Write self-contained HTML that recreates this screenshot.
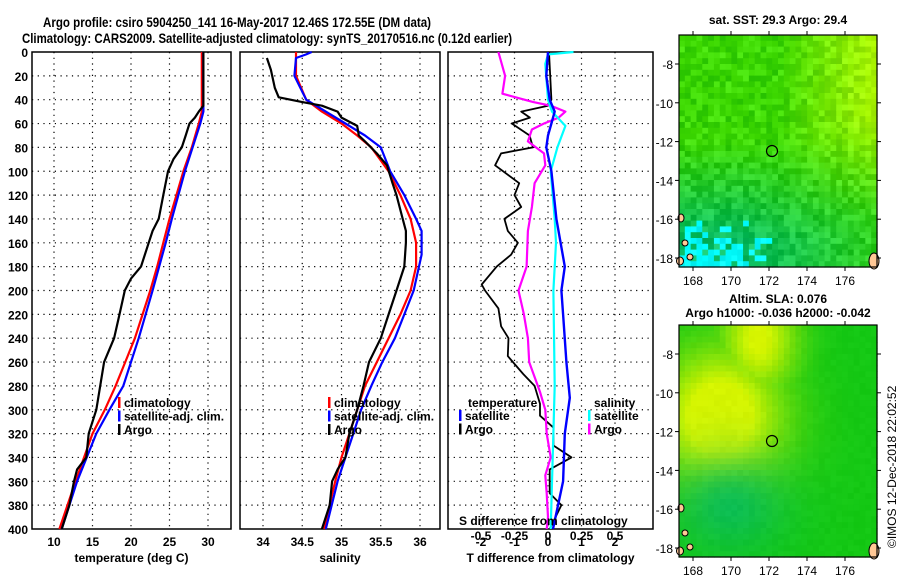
<!DOCTYPE html>
<html><head><meta charset="utf-8"><style>
body{margin:0;background:#fff;}
svg{display:block;font-family:"Liberation Sans",sans-serif;font-weight:bold;}
</style></head><body>
<svg id="fig" width="900" height="580" viewBox="0 0 900 580" xmlns="http://www.w3.org/2000/svg">
<rect width="900" height="580" fill="#fff"/>
<text x="43" y="27" font-size="14" textLength="388" lengthAdjust="spacingAndGlyphs">Argo profile: csiro 5904250_141 16-May-2017 12.46S 172.55E (DM data)</text>
<text x="22" y="43" font-size="14" textLength="490" lengthAdjust="spacingAndGlyphs">Climatology: CARS2009. Satellite-adjusted climatology: synTS_20170516.nc (0.12d earlier)</text>
<g id="charts"></g>
<g id="maps"></g>
<text transform="translate(896,548) rotate(-90)" font-size="12" font-weight="normal">©IMOS 12-Dec-2018 22:02:52</text>
</svg>
<script>
const depthTicks=[0,20,40,60,80,100,120,140,160,180,200,220,240,260,280,300,320,340,360,380,400];
const tempTicks=[10,15,20,25,30];
const salTicks=[34,34.5,35,35.5,36];
const tdiffTicks=[-2,-1,0,1,2];
const sdiffTicks=[-0.5,-0.25,0,0.25,0.5];
// temperature profiles
const tClimDepth=[0,50,60,80,100,140,160,180,200,240,280,300,320,360,400];
const tClim=[29.2,29.2,28.8,27.9,26.8,25.0,24.2,23.4,22.5,20.5,18.0,16.6,15.0,12.8,10.7];
const tSatDepth=[0,50,60,80,100,140,160,200,240,280,300,320,360,400];
const tSat=[29.4,29.4,29.0,28.0,27.0,25.3,24.5,22.8,21.0,19.0,17.2,15.5,13.0,11.0];
const tArgoDepth=[0,45,50,55,60,70,80,90,100,120,140,150,160,180,190,200,220,240,260,280,300,320,340,350,360,380,400];
const tArgo=[29.4,29.4,28.8,28.3,27.6,27.1,26.6,25.5,24.8,24.2,23.6,22.8,22.3,21.3,20.0,19.2,18.5,17.8,16.5,16.0,15.5,14.5,14.2,13.0,12.6,12.0,11.0];
// salinity profiles
const sClimDepth=[0,20,40,50,60,70,80,100,120,140,160,180,200,220,240,260,280,300,320,340,360,400];
const sClim=[34.42,34.42,34.55,34.75,35.0,35.2,35.38,35.6,35.75,35.88,35.95,35.95,35.88,35.75,35.6,35.45,35.3,35.2,35.1,35.0,34.92,34.78];
const sSatDepth=[0,2,5,20,40,50,60,70,80,100,120,140,150,170,200,220,240,260,280,300,320,340,360,400];
const sSat=[34.62,34.55,34.42,34.4,34.55,34.8,35.05,35.3,35.5,35.62,35.8,35.95,36.02,36.02,35.92,35.8,35.68,35.52,35.38,35.25,35.15,35.05,34.95,34.8];
const sArgoDepth=[5,15,30,38,42,45,50,55,62,70,75,85,95,110,120,140,150,160,180,200,220,240,260,280,300,320,340,350,360,380,400];
const sArgo=[34.05,34.1,34.15,34.2,34.5,34.75,34.95,35.0,35.2,35.22,35.3,35.45,35.58,35.65,35.7,35.78,35.82,35.82,35.8,35.7,35.6,35.5,35.35,35.28,35.2,35.1,35.05,34.95,34.88,34.85,34.75];
// difference profiles
const dTArgoDepth=[0,40,45,50,55,60,70,80,85,95,110,120,130,140,150,160,170,180,195,200,215,230,240,255,270,280,295,305,315,330,340,350,370,380,400];
const dTArgo=[0.03,0.1,0,-0.8,-0.54,-1.08,-0.55,-0.45,-1.4,-1.58,-0.86,-1.0,-0.8,-1.3,-1.2,-0.9,-1.1,-1.53,-1.98,-1.88,-1.48,-1.4,-1.18,-1.2,-0.74,-0.4,-0.24,-0.24,0.16,0.16,0.7,0.05,0.05,0.4,0.05];
const dTSatDepth=[0,20,40,50,60,70,80,100,140,180,200,220,260,290,320,360,400];
const dTSat=[0,-0.05,0.05,0.2,0.1,0,-0.05,0.1,0.25,0.5,0.4,0.45,0.55,0.65,0.5,0.45,0.15];
const dSSatDepth=[0,2,10,40,50,62,80,100,140,160,200,280,400];
const dSSat=[0.19,0.0,-0.02,0.0,0.03,0.13,0.07,0.02,0.05,0.06,0.04,0.05,0.02];
const dSArgoDepth=[0,20,35,42,45,50,55,60,65,75,85,95,110,130,150,180,200,220,240,260,285,300,320,340,355,370,390,400];
const dSArgo=[-0.37,-0.32,-0.34,-0.11,0.02,0.13,0.08,-0.03,-0.12,-0.15,-0.03,-0.02,-0.1,-0.12,-0.15,-0.16,-0.22,-0.18,-0.15,-0.14,-0.06,-0.02,-0.01,0.02,-0.02,-0.01,0,-0.01];

const NS="http://www.w3.org/2000/svg";
function mk(tag,attrs,parent){const e=document.createElementNS(NS,tag);for(const k in attrs)e.setAttribute(k,attrs[k]);parent.appendChild(e);return e;}
const charts=document.getElementById('charts');
const Y0=52,Y1=529;
function yD(d){return Y0+(Y1-Y0)*d/400;}
function panel(name,left,right,xticks,xf,xlabel,fmt){
  const g=mk('g',{},charts);
  
  
  depthTicks.forEach(d=>{if(d>0&&d<400){const l=mk('line',{x1:left,x2:right,y1:yD(d),y2:yD(d),stroke:'#000','stroke-width':1.2,'stroke-dasharray':'1.2 4.5'},g);}});
  xticks.forEach(v=>{const x=xf(v);
    const l=mk('line',{x1:x,x2:x,y1:Y0,y2:Y1,stroke:'#000','stroke-width':1.2,'stroke-dasharray':'1.2 4.5'},g);
    
    if(xlabel){const t=mk('text',{x:x,y:Y1+17,'font-size':12,'text-anchor':'middle'},g);t.textContent=fmt?fmt(v):v;
    }});
  const r=mk('rect',{x:left,y:Y0,width:right-left,height:Y1-Y0,fill:'none',stroke:'#000','stroke-width':1.5},g);
  
  if(xlabel){const t=mk('text',{x:(left+right)/2,y:Y1+33,'font-size':12,'text-anchor':'middle'},g);t.textContent=xlabel;
  }
  return g;
}
function line(g,depths,vals,xf,color,name,w){
  const pts=depths.map((d,i)=>xf(vals[i]).toFixed(1)+','+yD(d).toFixed(1)).join(' ');
  const p=mk('polyline',{points:pts,fill:'none',stroke:color,'stroke-width':w||2.2,'stroke-linejoin':'round'},g);
  
}
function legend(g,x,y,items){
  items.forEach((it,i)=>{
    const r=mk('rect',{x:x,y:y+i*13.5-10,width:2.5,height:11,fill:it[1]},g);
    
    const t=mk('text',{x:x+6,y:y+i*13.5,'font-size':12},g);t.textContent=it[0];
    });
}
depthTicks.forEach(d=>{const t=mk('text',{x:28,y:yD(d)+5,'font-size':12,'text-anchor':'end'},charts);t.textContent=d;
  });
const xT=v=>54+(v-10)*7.7;
const g1=panel('temperature-panel',32,231,tempTicks,xT,'temperature (deg C)');
line(g1,tClimDepth,tClim,xT,'#ff0000','temp-climatology-line');
line(g1,tSatDepth,tSat,xT,'#0000ff','temp-satellite-line');
line(g1,tArgoDepth,tArgo,xT,'#000','temp-argo-line');
legend(g1,118,407,[['climatology','#f00'],['satellite-adj. clim.','#00f'],['Argo','#000']]);
const xS=v=>263+(v-34)*78.5;
const g2=panel('salinity-panel',240,440,salTicks,xS,'salinity');
line(g2,sClimDepth,sClim,xS,'#ff0000','sal-climatology-line');
line(g2,sSatDepth,sSat,xS,'#0000ff','sal-satellite-line');
line(g2,sArgoDepth,sArgo,xS,'#000','sal-argo-line');
legend(g2,328,407,[['climatology','#f00'],['satellite-adj. clim.','#00f'],['Argo','#000']]);
const xD=v=>548+v*33.5;
const xDS=v=>548+v*4*33.5;
const g3=panel('difference-panel',448,653,tdiffTicks,xD,'T difference from climatology');
line(g3,dTArgoDepth,dTArgo,xD,'#000','tdiff-argo-line',1.8);
line(g3,dSArgoDepth,dSArgo,xDS,'#ff00ff','sdiff-argo-line',2.2);
line(g3,dSSatDepth,dSSat,xDS,'#00ffff','sdiff-satellite-line',2.2);
line(g3,dTSatDepth,dTSat,xD,'#0000ff','tdiff-satellite-line',2.4);
{const t=mk('text',{x:468,y:407,'font-size':12},g3);t.textContent='temperature';
 const t2=mk('text',{x:594,y:407,'font-size':12},g3);t2.textContent='salinity';}
legend(g3,459,420,[['satellite','#00f'],['Argo','#000']]);
legend(g3,588,420,[['satellite','#0ff'],['Argo','#f0f']]);
{const t=mk('text',{x:459,y:525,'font-size':12},g3);t.textContent='S difference from climatology';}
sdiffTicks.forEach(v=>{const t=mk('text',{x:xDS(v),y:540,'font-size':12,'text-anchor':'middle'},g3);t.textContent=v;
  });

// maps
const maps=document.getElementById('maps');
function hash(i,j,s){let h=(i*374761393+j*668265263+s*1442695041)|0;h=(h^(h>>>13))*1274126177|0;return ((h^(h>>>16))>>>0)/4294967295;}
function lerp(a,b,t){return a.map((v,k)=>Math.round(v+(b[k]-v)*t));}
function cl(x){return Math.max(0,Math.min(1,x));}
function map(top,title1,title2,field,jit,name){
  const L=679,R=877,T=top,B=top+232;
  const g=mk('g',{},maps);
  const nx=34,ny=40,cw=(R-L)/nx,ch=(B-T)/ny;
  for(let i=0;i<nx;i++)for(let j=0;j<ny;j++){
    const u=i/(nx-1),v=j/(ny-1);
    let c=field(u,v,i,j,hash(i,j,top+7));
    if(jit){const h=hash(i,j,top)-0.5;c=c.map(x=>Math.max(0,Math.min(255,Math.round(x+h*jit))));}
    mk('rect',{x:(L+i*cw).toFixed(2),y:(T+j*ch).toFixed(2),width:(cw+0.6).toFixed(2),height:(ch+0.6).toFixed(2),fill:'rgb('+c.join(',')+')'},g);
  }
  const isl=[[681,T+183,3,4],[680,T+226,3.5,4],[685,T+208,3,3],[690,T+222,3,3],[874,T+226,5,8]];
  isl.forEach(a=>{const e=mk('ellipse',{cx:a[0],cy:a[1],rx:a[2],ry:a[3],fill:'#ffc896',stroke:'#000','stroke-width':1},g);});
  const c=mk('circle',{cx:772,cy:T+116,r:5.5,fill:'none',stroke:'#000','stroke-width':1.2},g);
  
  const fr=mk('rect',{x:L,y:T,width:R-L,height:B-T,fill:'none',stroke:'#000','stroke-width':1.2},g);
  
  [168,170,172,174,176].forEach(lon=>{const x=693+(lon-168)*19;
    mk('line',{x1:x,x2:x,y1:T,y2:T-4,stroke:'#000'},g);mk('line',{x1:x,x2:x,y1:B,y2:B+4,stroke:'#000'},g);
    const t=mk('text',{x:x,y:B+18,'font-size':12,'text-anchor':'middle','font-weight':'normal'},g);t.textContent=lon;
    });
  [-8,-10,-12,-14,-16,-18].forEach(lat=>{const y=T+29+(-8-lat)*19.4;
    mk('line',{x1:L,x2:L-4,y1:y,y2:y,stroke:'#000'},g);mk('line',{x1:R,x2:R+4,y1:y,y2:y,stroke:'#000'},g);
    const t=mk('text',{x:673,y:y+5,'font-size':12,'text-anchor':'end','font-weight':'normal'},g);t.textContent=lat;
    });
  title1&&(()=>{const t=mk('text',{x:778,y:T-(title2?22:11),'font-size':12,'text-anchor':'middle'},g);t.textContent=title1;})();
  title2&&(()=>{const t=mk('text',{x:778,y:T-8,'font-size':12,'text-anchor':'middle'},g);t.textContent=title2;})();
}
const G=[30,200,10],Y=[200,255,0],TE=[0,185,120],CY=[0,255,255];
map(35,'sat. SST: 29.3 Argo: 29.4',null,(u,v,i,j,h)=>{
  let c=[60,215,0];
  const yel=cl((u-0.5)*2.0)*cl((0.8-v)*2.2);
  c=lerp(c,Y,yel*0.8);
  const te=cl((v-0.45)*2.2)*cl(1.3-u);
  c=lerp(c,TE,te*0.85);
  const cy=cl((v-0.8)*5)*cl((0.5-u)*4);
  if(h<cy)c=CY;
  return c;},45,'sst-map');
map(325,'Altim. SLA: 0.076','Argo h1000: -0.036 h2000: -0.042',(u,v)=>{
  let c=[20,200,20];
  const dy=Math.exp(-(((u-0.2)/0.32)**2+((v-0.4)/0.3)**2));
  const dy2=Math.exp(-(((u-0.4)/0.2)**2+((v-0.05)/0.25)**2));
  c=lerp(c,[215,245,0],cl(Math.max(dy,dy2*0.8)*1.3));
  const te=Math.exp(-(((u-0.25)/0.3)**2+((v-0.78)/0.22)**2));
  c=lerp(c,[0,185,100],te*0.8);
  return c;},6,'sla-map');
</script>
</body></html>
